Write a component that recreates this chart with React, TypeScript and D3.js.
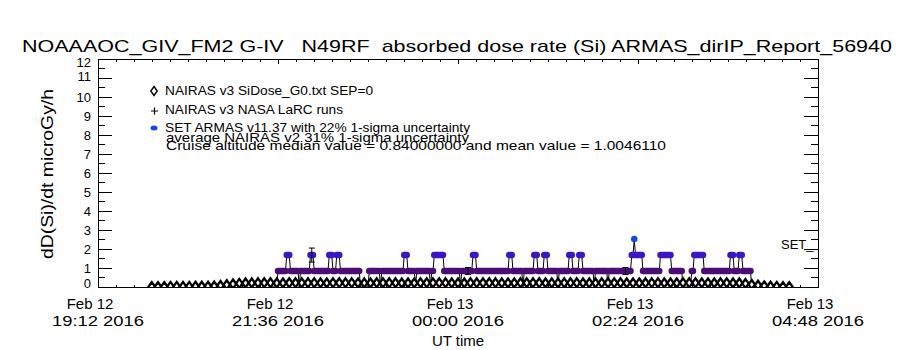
import React from "react";
import * as d3 from "d3";

const width = 900;
const height = 350;
const plot = { left: 90, right: 810, top: 51, bottom: 279 };

const titleText =
  "NOAAAOC_GIV_FM2 G-IV   N49RF  absorbed dose rate (Si) ARMAS_dirIP_Report_56940";

// x axis: major ticks every 2h24m, 10 minor intervals between them
const xTickTimes = ["2016-02-12 19:12", "2016-02-12 21:36", "2016-02-13 00:00", "2016-02-13 02:24", "2016-02-13 04:48"];
const xTickDay = ["Feb 12", "Feb 12", "Feb 13", "Feb 13", "Feb 13"];
const xTickClock = ["19:12 2016", "21:36 2016", "00:00 2016", "02:24 2016", "04:48 2016"];
const yTicks = [0, 1, 2, 3, 4, 5, 6, 7, 8, 9, 10, 11, 12];

// NAIRAS v3 SiDose_G0 model, one value every 5 minutes from 19:55 UT
const nairasStart = "2016-02-12 19:55";
const nairasValues = [
  0.02, 0.02, 0.02, 0.03, 0.03, 0.03, 0.03, 0.04, 0.04, 0.04, 0.05,
  0.08, 0.12, 0.16, 0.19,
  0.21, 0.21, 0.22, 0.22, 0.22, 0.21, 0.21, 0.22, 0.22, 0.22,
  0.22, 0.22, 0.21, 0.21, 0.22, 0.22, 0.22, 0.22, 0.21, 0.21,
  0.21, 0.22, 0.22, 0.22, 0.22, 0.21, 0.21, 0.21, 0.22, 0.22,
  0.22, 0.22, 0.22, 0.21, 0.21, 0.21, 0.22, 0.22, 0.22, 0.22,
  0.22, 0.21, 0.21, 0.21, 0.22, 0.22, 0.22, 0.22, 0.21, 0.21,
  0.21, 0.22, 0.22, 0.22, 0.21, 0.21, 0.21, 0.22, 0.22, 0.22,
  0.22, 0.21, 0.21, 0.21, 0.22, 0.22, 0.22, 0.21, 0.21, 0.21,
  0.22, 0.22, 0.22, 0.21, 0.21, 0.21, 0.22, 0.22, 0.21, 0.21,
  0.18, 0.13, 0.09, 0.06, 0.04, 0.03, 0.02, 0.02,
];

// SET ARMAS v11.37: each value holds from its minute until the next entry
const setTimes = [
  "21:30", "21:36", "21:43", "21:46", "21:53", "21:54", "22:02", "22:05",
  "22:17", "22:20", "22:23", "22:26", "22:42", "22:49", "22:58", "22:59",
  "23:17", "23:20", "23:26", "23:27", "23:38", "23:39", "23:41", "23:49",
  "00:02", "00:03", "00:12", "00:15", "00:41", "00:44", "00:52", "00:53",
  "01:01", "01:04", "01:09", "01:12", "01:20", "01:21", "01:29", "01:32",
  "01:37", "01:40", "01:49", "01:50", "02:00", "02:01", "02:19", "02:21",
  "02:22", "02:28", "02:42", "02:51", "03:00", "03:07", "03:09", "03:17",
  "03:38", "03:41", "03:45", "03:48", "03:55",
];
const setValues = [
  0, 0.84, 1.68, 0.84, 0, 0.84, 1.68, 0.84,
  1.68, 0.84, 1.68, 0.84, 0, 0.84, 0, 0.84,
  1.68, 0.84, 0, 0.84, 0, 0.84, 1.68, 0.84,
  0, 0.84, 1.68, 0.84, 1.68, 0.84, 0, 0.84,
  1.68, 0.84, 1.68, 0.84, 0, 0.84, 1.68, 0.84,
  1.68, 0.84, 0, 0.84, 0, 0.84, 1.68, 2.52,
  1.68, 0.84, 1.68, 0.84, 0, 0.84, 1.68, 0.84,
  1.68, 0.84, 1.68, 0.84, 0,
];
const setEnd = "04:00";
const setErrorTimes = ["22:03", "00:08", "02:14"];
const setUncertainty = 0.22;

const legendLines = [
  "NAIRAS v3 SiDose_G0.txt SEP=0",
  "NAIRAS v3 NASA LaRC runs",
  "SET ARMAS v11.37 with 22% 1-sigma uncertainty",
];
const noteLines = [
  "average NAIRAS v2 31% 1-sigma uncertainty",
  "Cruise altitude median value = 0.84000000 and mean value = 1.0046110",
];

const parseFull = d3.timeParse("%Y-%m-%d %H:%M");
// flight crosses midnight: afternoon clock times are Feb 12, the rest Feb 13
const parseClock = (s: string) =>
  parseFull((+s.slice(0, 2) >= 12 ? "2016-02-12 " : "2016-02-13 ") + s) as Date;

const font = "'Liberation Sans', Arial, sans-serif";

function setColor(v: number) {
  if (v >= 2.5) return "#1646f2";
  if (v >= 1.6) return "#3a16c4";
  return "#4c0c74";
}

// IDL squeezes the end labels of the y axis a little
function yLabelShift(v: number) {
  if (v === 0) return -4;
  if (v === 11) return -2;
  if (v === 12) return 3;
  return 0;
}

export default function App() {
  const x = d3
    .scaleTime()
    .domain([parseFull(xTickTimes[0]) as Date, parseFull(xTickTimes[4]) as Date])
    .range([plot.left, plot.right]);
  const y = d3.scaleLinear().domain([0, 12]).range([plot.bottom, plot.top]);

  const majorX = xTickTimes.map((t) => parseFull(t) as Date);
  const minorX: Date[] = [];
  for (let i = 0; i < majorX.length - 1; i++) {
    const step = (+majorX[i + 1] - +majorX[i]) / 10;
    for (let k = 1; k < 10; k++) minorX.push(new Date(+majorX[i] + k * step));
  }
  const minorY = d3.range(0.5, 12, 1);

  const nStart = parseFull(nairasStart) as Date;
  const nairas = nairasValues.map((v, i) => ({ t: d3.timeMinute.offset(nStart, 5 * i), v }));

  const runs = setTimes.map((s, i) => {
    const start = parseClock(s);
    const end =
      i < setTimes.length - 1
        ? d3.timeMinute.offset(parseClock(setTimes[i + 1]), -1)
        : parseClock(setEnd);
    return { start, end, v: setValues[i] };
  });
  const linePts: [Date, number][] = [];
  runs.forEach((r) => {
    linePts.push([r.start, r.v]);
    if (+r.end > +r.start) linePts.push([r.end, r.v]);
  });
  const setLine = d3
    .line<[Date, number]>()
    .x((d) => x(d[0]))
    .y((d) => y(d[1]));

  const errors = setErrorTimes.map((s) => {
    const t = parseClock(s);
    const r = runs.find((q) => +q.start <= +t && +t <= +q.end)!;
    return { t, v: r.v };
  });

  const diamond = "M0,-4.5L3.2,0L0,4.5L-3.2,0Z";

  return (
    <svg width={width} height={height} style={{ display: "block", background: "#fff" }}>
      <defs>
        <clipPath id="plotclip">
          <rect x={plot.left} y={plot.top} width={plot.right - plot.left} height={plot.bottom - plot.top} />
        </clipPath>
      </defs>
      <rect width={width} height={height} fill="#fff" />
      <text x={14} y={44} fontFamily={font} fontSize={17} textLength={870} lengthAdjust="spacingAndGlyphs"
        style={{ whiteSpace: "pre" }}>
        {titleText}
      </text>

      {/* frame and ticks */}
      <rect x={plot.left} y={plot.top} width={plot.right - plot.left} height={plot.bottom - plot.top}
        fill="none" stroke="#000" strokeWidth={1} shapeRendering="crispEdges" />
      <g stroke="#000" strokeWidth={1} shapeRendering="crispEdges">
        {majorX.map((t, i) => (
          <g key={"mx" + i}>
            <line x1={x(t)} x2={x(t)} y1={plot.bottom} y2={plot.bottom - 5} />
            <line x1={x(t)} x2={x(t)} y1={plot.top} y2={plot.top + 5} />
          </g>
        ))}
        {minorX.map((t, i) => (
          <g key={"nx" + i}>
            <line x1={x(t)} x2={x(t)} y1={plot.bottom} y2={plot.bottom - 2.5} />
            <line x1={x(t)} x2={x(t)} y1={plot.top} y2={plot.top + 2.5} />
          </g>
        ))}
        {yTicks.map((v) => (
          <g key={"my" + v}>
            <line x1={plot.left} x2={plot.left + 14} y1={y(v)} y2={y(v)} />
            <line x1={plot.right} x2={plot.right - 14} y1={y(v)} y2={y(v)} />
          </g>
        ))}
        {minorY.map((v) => (
          <g key={"ny" + v}>
            <line x1={plot.left} x2={plot.left + 7} y1={y(v)} y2={y(v)} />
            <line x1={plot.right} x2={plot.right - 7} y1={y(v)} y2={y(v)} />
          </g>
        ))}
      </g>

      {/* tick labels */}
      <g fontFamily={font} fontSize={13} textAnchor="end">
        {yTicks.map((v) => (
          <text key={"yl" + v} x={83} y={y(v) + yLabelShift(v)} dy="0.36em">{v}</text>
        ))}
      </g>
      <g fontFamily={font} fontSize={15} textAnchor="middle">
        {majorX.map((t, i) => (
          <g key={"xl" + i}>
            <text x={x(t) - 8} y={301}>{xTickDay[i]}</text>
            <text x={x(t)} y={318} textLength={92} lengthAdjust="spacingAndGlyphs">{xTickClock[i]}</text>
          </g>
        ))}
        <text x={450} y={338}>UT time</text>
      </g>
      <text transform="translate(45,166) rotate(-90)" fontFamily={font} fontSize={16} textAnchor="middle"
        textLength={170} lengthAdjust="spacingAndGlyphs">
        dD(Si)/dt microGy/h
      </text>

      {/* legend */}
      <g fontFamily={font} fontSize={13}>
        <path d={diamond} transform="translate(146,83)" fill="#fff" stroke="#000" strokeWidth={1.4} />
        <path d="M143,103H150M146.5,99.5V106.5" stroke="#000" strokeWidth={1.2} />
        <ellipse cx={146} cy={120} rx={3.5} ry={2.5} fill="#1646f2" />
        <text x={157} y={87} textLength={208} lengthAdjust="spacingAndGlyphs">{legendLines[0]}</text>
        <text x={157} y={106} textLength={178} lengthAdjust="spacingAndGlyphs">{legendLines[1]}</text>
        <text x={157} y={124} textLength={305} lengthAdjust="spacingAndGlyphs">{legendLines[2]}</text>
        <text x={158} y={134} textLength={303} lengthAdjust="spacingAndGlyphs">{noteLines[0]}</text>
        <text x={158} y={142} textLength={500} lengthAdjust="spacingAndGlyphs">{noteLines[1]}</text>
      </g>

      <g clipPath="url(#plotclip)">
        {/* SET connecting line */}
        <path d={setLine(linePts) || ""} fill="none" stroke="#000" strokeWidth={1} />
        {/* NAIRAS diamonds */}
        {nairas.map((d, i) => (
          <path key={"n" + i} d={diamond} transform={`translate(${x(d.t)},${y(d.v)})`}
            fill="#fff" stroke="#000" strokeWidth={2.3} />
        ))}
        {/* SET markers */}
        {runs.filter((r) => r.v > 0).map((r, i) => (
          <line key={"s" + i} x1={x(r.start)} x2={x(r.end)} y1={y(r.v)} y2={y(r.v)}
            stroke={setColor(r.v)} strokeWidth={6.5} strokeLinecap="round" />
        ))}
        {/* SET 1-sigma error bars */}
        {errors.map((e, i) => {
          const cx = x(e.t);
          const lo = y(e.v * (1 - setUncertainty));
          const hi = y(e.v * (1 + setUncertainty));
          return (
            <path key={"e" + i} d={`M${cx},${lo}V${hi}M${cx - 3},${lo}H${cx + 3}M${cx - 3},${hi}H${cx + 3}`}
              stroke="#000" strokeWidth={1} fill="none" />
          );
        })}
      </g>
      <text x={773} y={241} fontFamily={font} fontSize={13}>SET_</text>
    </svg>
  );
}
